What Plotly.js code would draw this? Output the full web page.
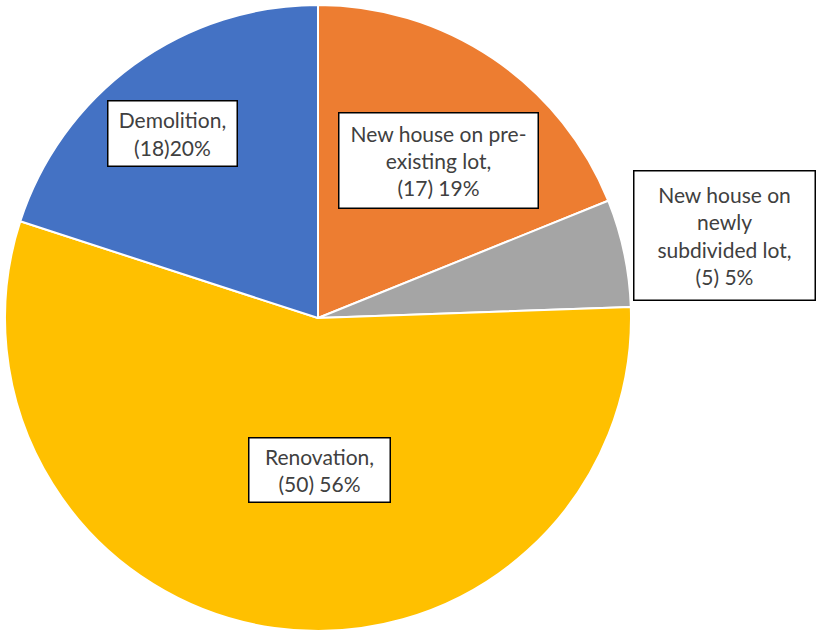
<!DOCTYPE html>
<html><head><meta charset="utf-8">
<script src="https://cdn.plot.ly/plotly-3.0.1.min.js"></script>
<style>html,body{margin:0;padding:0;background:#fff}</style>
</head><body>
<div id="chart" style="width:819px;height:631px"></div>
<script>
const categories = ["New house on pre-existing lot", "New house on newly subdivided lot", "Renovation", "Demolition"];
const counts = [17, 5, 50, 18];
const labelTexts = ["New house on pre-<br>existing lot,<br>(17) 19%", "New house on<br>newly<br>subdivided lot,<br>(5) 5%", "Renovation,<br>(50) 56%", "Demolition,<br>(18)20%"];
const colors = ["#ED7D31", "#A5A5A5", "#FFC000", "#4472C4"];

const W = 819, H = 631;
const boxes = [
  {cx: 438, cy: 160, w: 198, h: 94},
  {cx: 724, cy: 235, w: 180, h: 128},
  {cx: 319, cy: 470, w: 140, h: 63},
  {cx: 172, cy: 133, w: 128, h: 64}
];

const annotations = labelTexts.map((t, i) => ({
  x: boxes[i].cx / W, y: 1 - boxes[i].cy / H, xref: 'paper', yref: 'paper',
  xanchor: 'center', yanchor: 'middle',
  text: t, showarrow: false, align: 'center', valign: 'middle',
  width: boxes[i].w, height: boxes[i].h,
  bgcolor: '#ffffff', bordercolor: '#000000', borderwidth: 1.5, borderpad: 0,
  font: {family: 'Lato, "Liberation Sans", sans-serif', size: 21, color: '#404040'}
}));

Plotly.newPlot('chart', [{
  type: 'pie', labels: categories, values: counts, sort: false,
  direction: 'clockwise', rotation: 0,
  marker: {colors: colors, line: {color: '#ffffff', width: 2}},
  textinfo: 'none', hoverinfo: 'label+value+percent',
  domain: {x: [5/W, 631/W], y: [0, 1 - 5/H]}
}], {
  width: W, height: H, margin: {l: 0, r: 0, t: 0, b: 0},
  showlegend: false, paper_bgcolor: '#ffffff',
  annotations: annotations
}, {displayModeBar: false, staticPlot: true});
</script>
</body></html>
